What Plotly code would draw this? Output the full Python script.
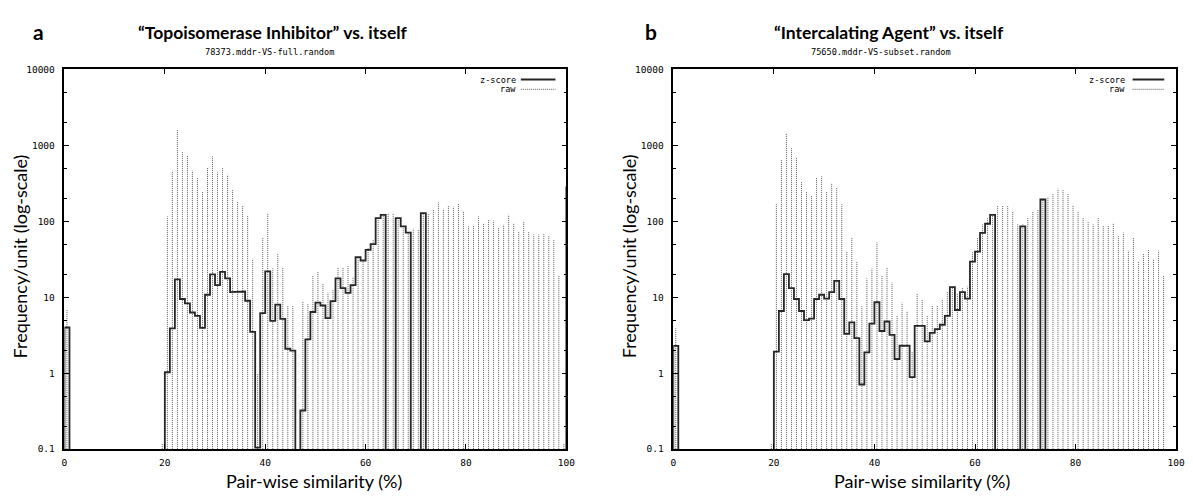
import plotly.graph_objects as go

"""
-Data read off the two gnuplot panels-
raw: value at bin centre k+0.5 (None = nothing drawn)
z-score: histogram step value for bin [k, k+1] (0 = empty bin)
"""

raw_a = [6.8, None, None, None, None, None, None, None, None, None,
         None, None, None, None, None, None, None, None, None, 0.12,
         116, 463, 1590, 828, 735, 463, 379, 243, 510, 715,
         440, 510, 410, 257, 181, 161, 120, 32, 1.0, 61,
         125, 24, 38, 25, 7.8, 7.8, None, 8.9, 8.1, 19.5,
         22, 15.4, 11.5, 12.6, 25, 25, 26, 18.6, 33.6, 30.5,
         45, 58, 110, 122, 128, 125, 105, 82, 74, 80,
         78, 128, 124, 141, 177, 146, 163, 156, 172, 137,
         86, 86, 116, 95, 105, 102, 82, 90, 122, 95,
         73, 100, 73, 67, 67, 68, 64, 58, 19.5, 0.12]

zscore_a = [4.0, 0, 0, 0, 0, 0, 0, 0, 0, 0,
            0, 0, 0, 0, 0, 0, 0, 0, 0, 0,
            1.03, 3.9, 17.2, 9.5, 8.3, 6.3, 5.7, 3.95, 10.8, 20,
            14.5, 21.6, 17.7, 11.7, 11.7, 11.9, 9.0, 3.5, 0.105, 6.2,
            22, 4.9, 8.0, 5.2, 2.1, 1.98, 0, 0.323, 2.79, 6.4,
            8.5, 7.8, 5.3, 8.9, 17.7, 13.2, 11.4, 14.5, 33.7, 30.5,
            42, 50, 110, 122, 0, 0, 110, 86, 71, 0,
            0, 128, 0, 0, 0, 0, 0, 0, 0, 0,
            0, 0, 0, 0, 0, 0, 0, 0, 0, 0,
            0, 0, 0, 0, 0, 0, 0, 0, 0, 0,
            280]

raw_b = [3.9, None, None, None, None, None, None, None, None, None,
         None, None, None, None, None, None, None, None, None, 0.12,
         172, 645, 1460, 943, 701, 334, 250, 220, 371, 391,
         248, 320, 274, 167, 40, 61, 29, 7.6, 17.7, 23.9,
         52.5, 19.6, 25, 15.6, 5.8, 8.5, 6.6, 1.9, 11, 9.5,
         5.7, 7.8, 7.8, 9.5, 11.9, 13.2, 11.4, 13.2, 13.8, 39,
         61, 91, 110, 122, 159, 159, 159, 134, 91, 91,
         110, 134, 141, 190, 210, 232, 269, 265, 232, 164,
         132, 110, 100, 91, 110, 88, 88, 95, 64, 71,
         41, 61, 30, 37, 43, 32, 41, 19.6, None, None]

zscore_b = [2.29, 0, 0, 0, 0, 0, 0, 0, 0, 0,
            0, 0, 0, 0, 0, 0, 0, 0, 0, 0,
            1.92, 6.6, 20.2, 13.2, 9.5, 6.6, 5.0, 5.25, 9.5, 10.8,
            9.6, 11.7, 16.4, 9.5, 3.3, 4.67, 2.9, 0.71, 1.88, 4.5,
            8.6, 3.6, 4.8, 3.2, 1.54, 2.3, 2.3, 0.89, 4.2, 4.2,
            2.63, 3.4, 3.8, 4.35, 5.7, 13.6, 6.8, 11.7, 9.6, 29.5,
            40, 70.5, 93, 122, 0, 0, 0, 0, 0, 86,
            0, 0, 0, 194, 0, 0, 0, 0, 0, 0,
            0, 0, 0, 0, 0, 0, 0, 0, 0, 0,
            0, 0, 0, 0, 0, 0, 0, 0, 0, 0,
            0]

titles = ["\u201cTopoisomerase Inhibitor\u201d vs. itself", "\u201cIntercalating Agent\u201d vs. itself"]
subtitles = ["78373.mddr-VS-full.random", "75650.mddr-VS-subset.random"]
letters = ["a", "b"]
x_ticks = [0, 20, 40, 60, 80, 100]
y_ticks = [0.1, 1, 10, 100, 1000, 10000]
y_tick_text = ["0.1", "1", "10", "100", "1000", "10000"]

W, H = 1193, 498
OFF = 8          # page body margin; positions below are screen pixels
MONO = "DejaVu Sans Mono"
SANS = "Lato"
FLOOR = 0.1      # bottom of the log axis, impulses start here
EMPTY = 1e-3     # empty bins are drawn below the axis (clipped)
RAW_COLOR = "#5a5a5a"
Z_COLOR = "#262626"


def impulses(vals):
    xs, ys = [], []
    for k, v in enumerate(vals):
        if v is None:
            continue
        xs += [k + 0.5, k + 0.5, None]
        ys += [FLOOR, v, None]
    return xs, ys


def steps(vals):
    xs, ys = [0], [EMPTY]
    for k, v in enumerate(vals):
        v = v if v > 0 else EMPTY
        xs += [k, k + 1]
        ys += [v, v]
    return xs, ys


def px(x):
    return (x - OFF) / W


def py(y):
    return 1 - (y - OFF) / H


fig = go.Figure()

panels = [
    dict(raw=raw_a, z=zscore_a, x0=62, x1=569, letter_x=36, title_x=273, sub_x=269,
         ytitle_x=17, xtitle_x=314, leg_txt=520, leg_l=523, leg_r=558),
    dict(raw=raw_b, z=zscore_b, x0=677, x1=1185, letter_x=655, title_x=895, sub_x=887,
         ytitle_x=632, xtitle_x=928, leg_txt=1135, leg_l=1141, leg_r=1173),
]

top, bottom = 64.7, 453
annotations = []
shapes = []

for i, p in enumerate(panels):
    n = "" if i == 0 else str(i + 1)
    xr, yr = "x" + n, "y" + n

    rx, ry = impulses(p["raw"])
    fig.add_trace(go.Scatter(x=rx, y=ry, mode="lines", name="raw", xaxis=xr, yaxis=yr,
                             line=dict(color=RAW_COLOR, width=1, dash="1px,1px"),
                             showlegend=False, hoverinfo="skip"))
    sx, sy = steps(p["z"])
    fig.add_trace(go.Scatter(x=sx, y=sy, mode="lines", name="z-score", xaxis=xr, yaxis=yr,
                             line=dict(color=Z_COLOR, width=1.8),
                             showlegend=False))

    axis_common = dict(showline=True, linecolor="black", linewidth=1.5, mirror="ticks",
                       ticks="inside", ticklen=5, tickcolor="black", tickwidth=1,
                       showgrid=False, zeroline=False,
                       tickfont=dict(family=MONO, size=9.5, color="black"))
    fig.update_layout({
        "xaxis" + n: dict(axis_common, domain=[px(p["x0"]), px(p["x1"])], range=[0, 100],
                          tickvals=x_ticks, anchor=yr, ticklabelstandoff=4),
        "yaxis" + n: dict(axis_common, domain=[py(bottom), py(top)], type="log", range=[-1, 4],
                          tickvals=y_ticks, ticktext=y_tick_text, anchor=xr,
                          ticklabelstandoff=6,
                          minor=dict(ticks="inside", ticklen=3, dtick="D2", tickcolor="black",
                                     showgrid=False)),
    })

    annotations += [
        dict(text="<b>" + letters[i] + "</b>", x=px(p["letter_x"]), y=py(26),
             font=dict(family=SANS, size=21, color="black")),
        dict(text="<b>" + titles[i] + "</b>", x=px(p["title_x"]), y=py(27),
             font=dict(family=SANS, size=17.5, color="black")),
        dict(text=subtitles[i], x=px(p["sub_x"]), y=py(47),
             font=dict(family=MONO, size=8.6, color="black")),
        dict(text="Frequency/unit (log-scale)", x=px(p["ytitle_x"]), y=py(256), textangle=-90,
             font=dict(family=SANS, size=18, color="black")),
        dict(text="Pair-wise similarity (%)", x=px(p["xtitle_x"]), y=py(486),
             font=dict(family=SANS, size=18, color="black")),
        dict(text="z-score", x=px(p["leg_txt"]), y=py(75), xanchor="right",
             font=dict(family=MONO, size=8.6, color="black")),
        dict(text="raw", x=px(p["leg_txt"]), y=py(85), xanchor="right",
             font=dict(family=MONO, size=8.6, color="black")),
    ]
    shapes += [
        dict(type="line", xref="paper", yref="paper", x0=px(p["leg_l"]), x1=px(p["leg_r"]),
             y0=py(75), y1=py(75), line=dict(color=Z_COLOR, width=1.8)),
        dict(type="line", xref="paper", yref="paper", x0=px(p["leg_l"]), x1=px(p["leg_r"]),
             y0=py(85), y1=py(85), line=dict(color=RAW_COLOR, width=1, dash="1px,1px")),
    ]

for a in annotations:
    a.update(xref="paper", yref="paper", showarrow=False)
    a.setdefault("xanchor", "center")
    a.setdefault("yanchor", "middle")

fig.update_layout(width=W, height=H, margin=dict(l=0, r=0, t=0, b=0),
                  paper_bgcolor="white", plot_bgcolor="white",
                  annotations=annotations, shapes=shapes, showlegend=False)

fig.write_html("out.html")
